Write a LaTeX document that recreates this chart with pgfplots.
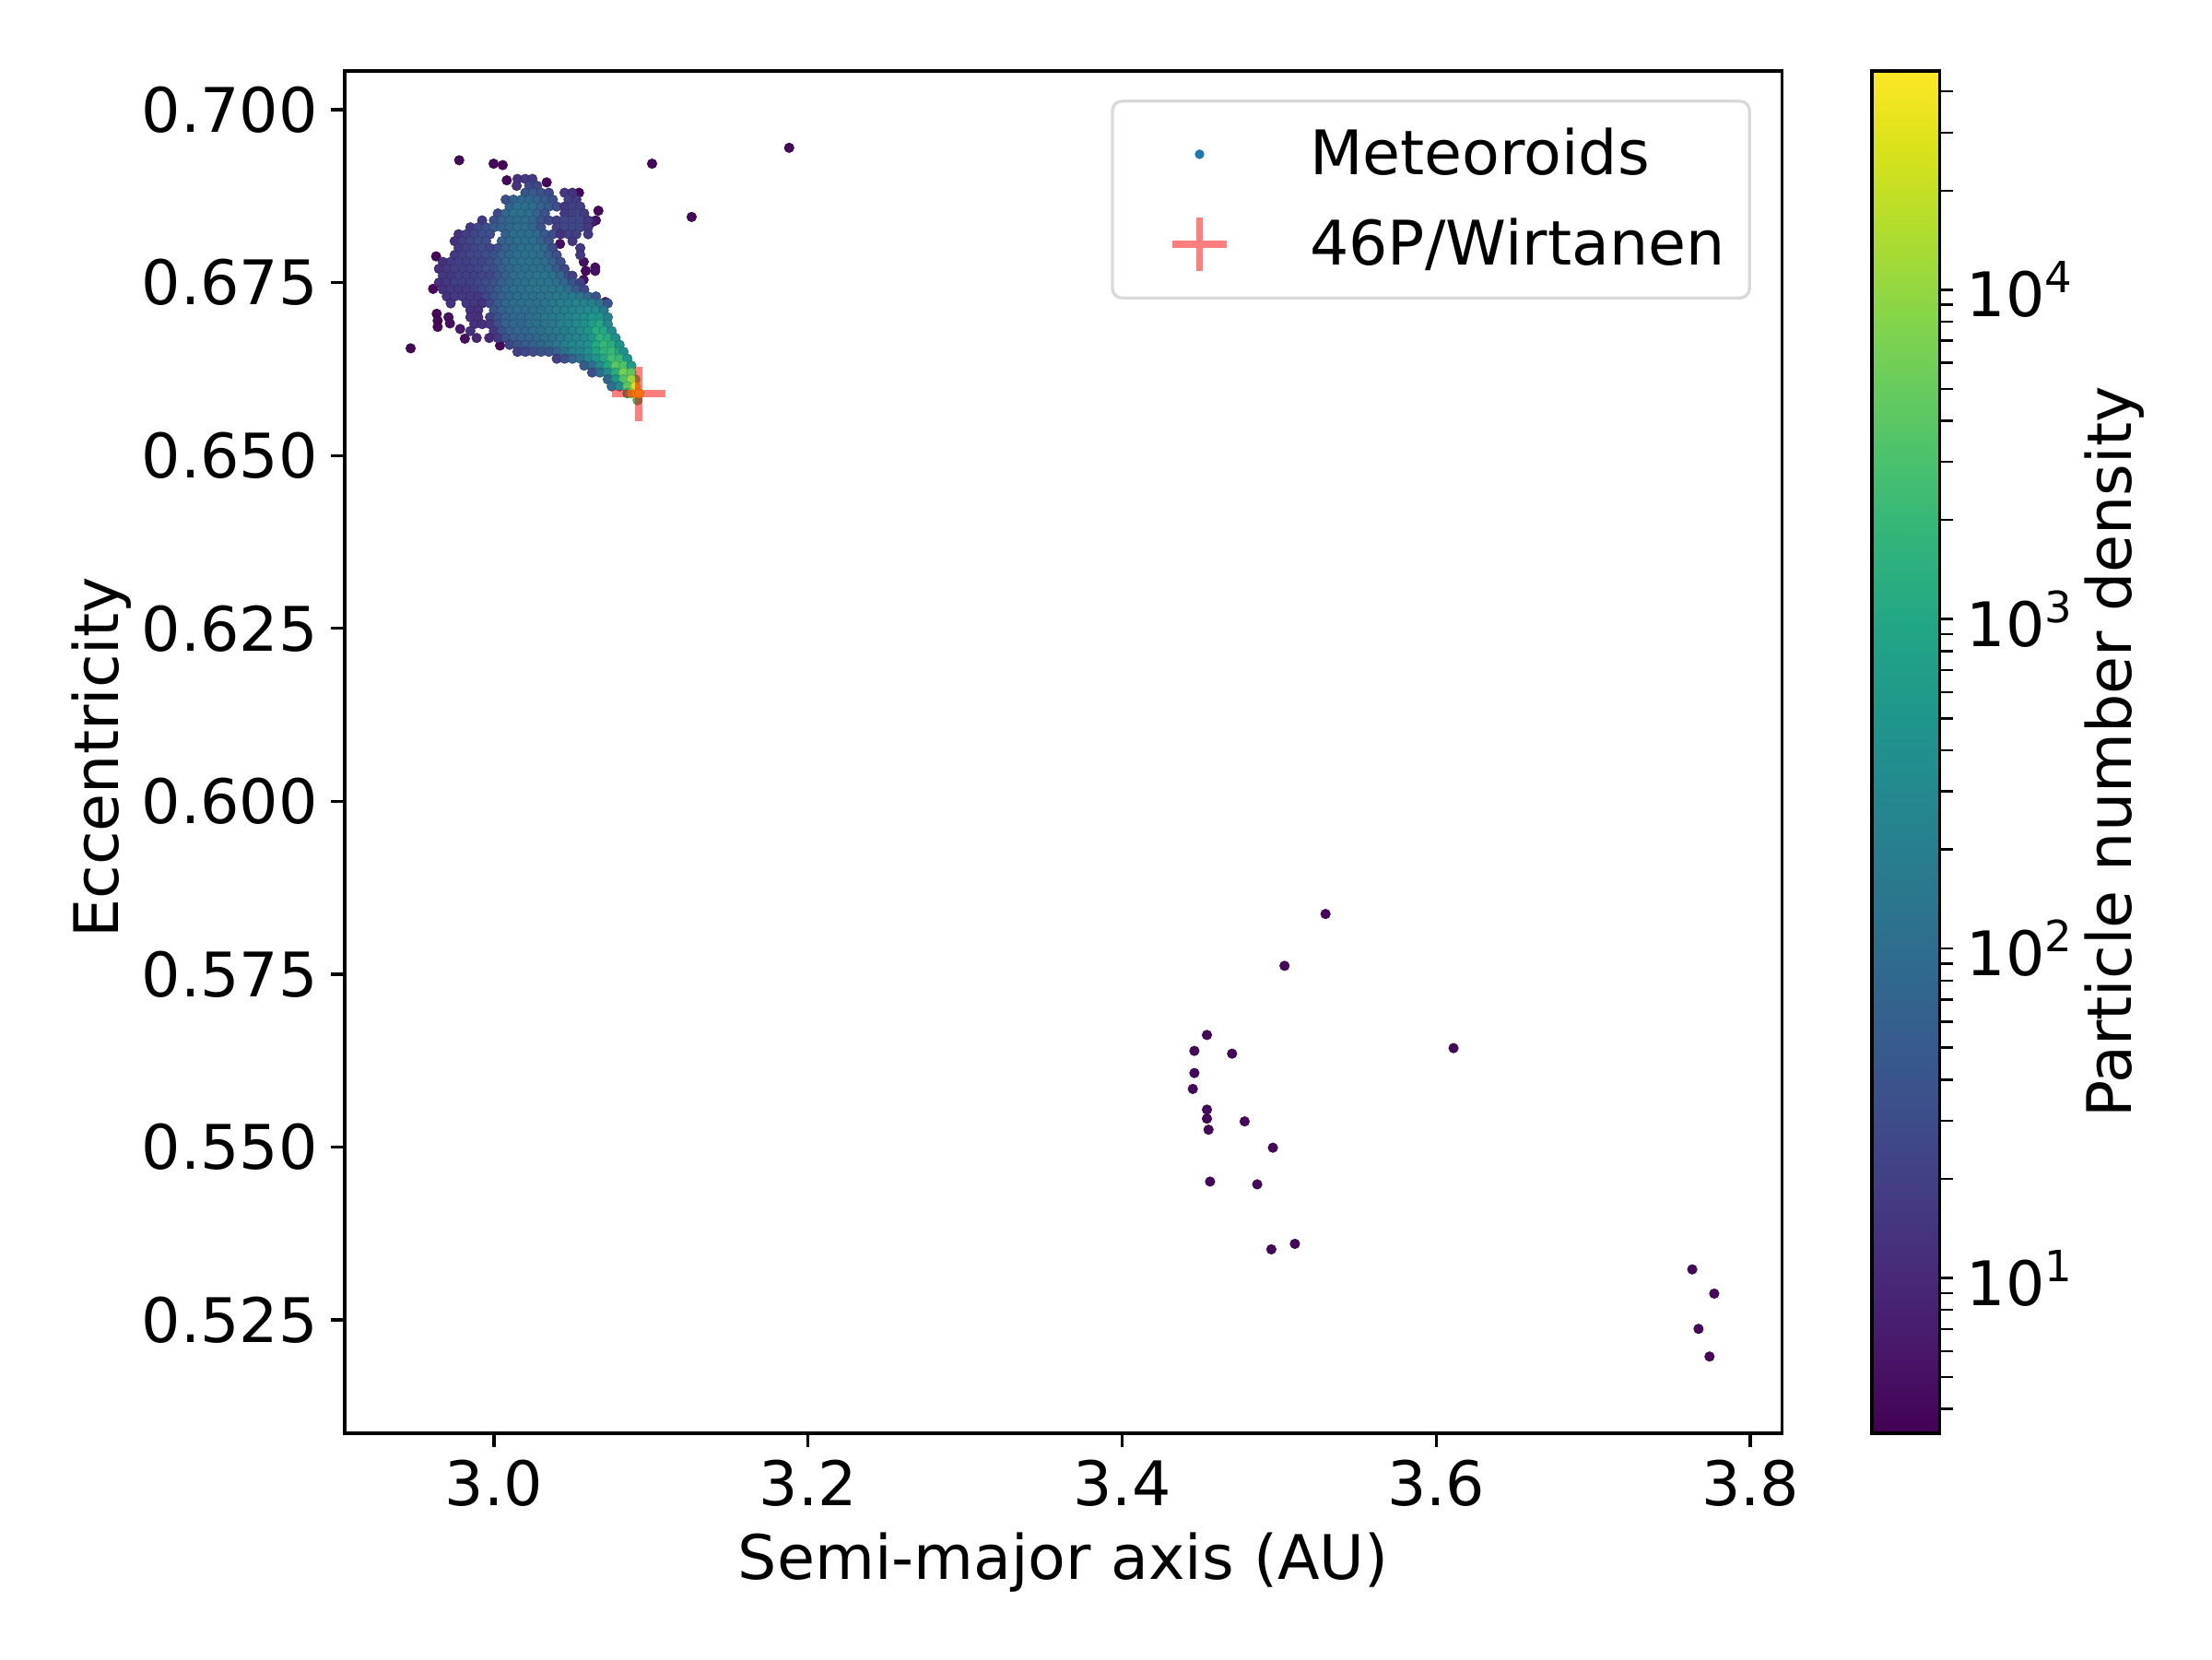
\documentclass[border=0pt]{standalone}
\usepackage{fontspec}
\setmainfont{DejaVu Sans}
\usepackage{pgfplots}
\pgfplotsset{compat=1.18}
\definecolor{cone}{HTML}{1F77B4}
\begin{document}
\begin{tikzpicture}[x=1bp,y=1bp]
\useasboundingbox (0,0) rectangle (576,432);
\begin{axis}[
  name=main,
  at={(89.76bp,58.8bp)},anchor=south west,
  scale only axis,width=374.2bp,height=354.7bp,
  xmin=2.905,xmax=3.82,ymin=0.5086,ymax=0.7056,
  axis line style={line width=0.8bp},
  every tick/.style={black,line width=0.8bp},
  tick align=outside,tick pos=left,
  major tick length=3.5bp,
  xtick={3,3.2,3.4,3.6,3.8},xticklabels={3.0,3.2,3.4,3.6,3.8},
  ytick={0.525,0.55,0.575,0.6,0.625,0.65,0.675,0.7},
  yticklabels={0.525,0.550,0.575,0.600,0.625,0.650,0.675,0.700},
  tick label style={font=\fontsize{16bp}{19bp}\selectfont},
  label style={font=\fontsize{16bp}{19bp}\selectfont},
  xlabel={Semi-major axis (AU)},ylabel={Eccentricity},
  ylabel shift=-4bp,
  ylabel style={at={(ticklabel cs:0.496)}},
  colormap/viridis,
  point meta min=0.5285,point meta max=4.664,
  colorbar,
  colorbar shift/.style={xshift=23.5bp},
  colorbar/width=17.6bp,
  colorbar style={
    at={(parent axis.south east)},anchor=south west,
    width=17.6bp,height=354.7bp,
    axis line style={line width=0.8bp},
    ylabel={Particle number density},
    ylabel style={font=\fontsize{16bp}{19bp}\selectfont},
    ylabel shift=-4bp,
    ytick={1,2,3,4},
    yticklabels={10\textsuperscript{1},10\textsuperscript{2},10\textsuperscript{3},10\textsuperscript{4}},
    yticklabel style={font=\fontsize{16bp}{19bp}\selectfont},
    minor ytick={0.6021,0.699,0.7782,0.8451,0.9031,0.9542,1.301,1.4771,1.6021,1.699,1.7782,1.8451,1.9031,1.9542,2.301,2.4771,2.6021,2.699,2.7782,2.8451,2.9031,2.9542,3.301,3.4771,3.6021,3.699,3.7782,3.8451,3.9031,3.9542,4.301,4.4771,4.6021},
    major tick length=3.5bp,minor tick length=3.5bp,
    every tick/.style={black,line width=0.6bp},
    minor tick style={black,line width=0.6bp},
    tick align=outside,tick pos=right,ytick pos=right,yticklabel pos=right,
  },
  legend style={
    at={(axis description cs:0.9786,0.979)},anchor=north east,
    draw=black!15,line width=0.8bp,rounded corners=2.5bp,
    font=\fontsize{16bp}{19bp}\selectfont,
    inner xsep=5.4bp,inner ysep=6bp,row sep=7.7bp,
    nodes={inner xsep=1bp,inner ysep=1bp},
  },
  legend cell align=left,
]
\addplot[scatter,only marks,mark=*,mark size=1.25bp,forget plot,
  point meta=explicit,mark options={line width=0.15bp}]
coordinates {
(3.188,.6945)[.6](3.1007,.6922)[.6](3.1259,.6845)[.6](2.947,.6655)[.6](2.9779,.6927)[.6]
(2.9998,.6922)[.6](3.0056,.6920)[.6](3.0082,.6898)[.6](3.0336,.6895)[.6](3.0542,.6880)[.6]
(3.5295,.5837)[.6](3.5034,.5762)[.6](3.454,.5662)[.6](3.446,.5639)[.6](3.470,.5635)[.6]
(3.446,.5607)[.6](3.445,.5584)[.6](3.454,.5554)[.6](3.454,.5541)[.6](3.455,.5525)[.6]
(3.478,.5537)[.6](3.496,.5499)[.6](3.456,.5450)[.6](3.486,.5446)[.6](3.495,.5352)[.6]
(3.510,.5360)[.6](3.611,.5643)[.6](3.763,.5323)[.6](3.777,.5288)[.6](3.767,.5237)[.6](3.774,.5197)[.6]
(3.0665,.6854)[.6](3.0649,.6840)[.7](3.0630,.6838)[.8](2.9632,.6788)[.6](2.9613,.6741)[.6]
(2.9636,.6705)[.6](2.9642,.6695)[.6](2.9642,.6686)[.6](2.9711,.6700)[.7](2.9720,.6691)[.7]
(2.9785,.6683)[.8](2.9815,.6669)[.7](3.0039,.6659)[.6](3.0585,.6767)[.6](3.0571,.6754)[.7]
(3.0572,.6780)[.7](3.0645,.6772)[.7](3.0645,.6767)[.7](3.0421,.6806)[.7](3.0710,.6722)[.8]
(3.015,.690)[1.1](3.02,.690)[1.2](3.0245,.690)[1.2]
(3.0145,.689)[1.1](3.0225,.689)[1.4](3.0275,.689)[1.4]
(3.02,.688)[1.6](3.025,.688)[1.7](3.03,.688)[1.6](3.035,.688)[1.4](3.045,.688)[1.2](3.05,.688)[1.1]
(3.0075,.687)[1.5](3.0125,.687)[1.8](3.0175,.687)[1.9](3.0225,.687)[1.9](3.0275,.687)[1.8](3.0325,.687)[1.7](3.0375,.687)[1.5](3.0475,.687)[1.3](3.0525,.687)[1.2]
(3.01,.686)[1.8](3.015,.686)[2.05](3.02,.686)[2.05](3.025,.686)[2.0](3.03,.686)[1.8](3.035,.686)[1.7](3.04,.686)[1.5](3.045,.686)[1.2](3.05,.686)[1.3](3.055,.686)[1.3]
(3.0025,.685)[1.4](3.0075,.685)[1.9](3.0125,.685)[2.05](3.0175,.685)[2.05](3.0225,.685)[2.0](3.0275,.685)[1.8](3.0325,.685)[1.6](3.045,.685)[1.2](3.05,.685)[1.3](3.055,.685)[1.4](3.0575,.685)[1.2]
(2.9925,.684)[1.2](3.0,.684)[1.5](3.005,.684)[1.8](3.01,.684)[1.9](3.015,.684)[2.0](3.02,.684)[2.0](3.025,.684)[1.9](3.03,.684)[1.6](3.035,.684)[1.4](3.04,.684)[1.3](3.045,.684)[1.4](3.05,.684)[1.4](3.055,.684)[1.4](3.06,.684)[1.2]
(2.985,.683)[1.2](2.99,.683)[1.4](2.995,.683)[1.5](3.0,.683)[1.7](3.005,.683)[1.8](3.01,.683)[1.9](3.015,.683)[2.0](3.02,.683)[2.0](3.025,.683)[1.9](3.03,.683)[1.6](3.04,.683)[1.3](3.045,.683)[1.4](3.05,.683)[1.4](3.055,.683)[1.4](3.06,.683)[1.2]
(2.9775,.682)[1.1](2.9825,.682)[1.3](2.9875,.682)[1.4](2.9925,.682)[1.5](2.9975,.682)[1.5](3.0075,.682)[1.8](3.0125,.682)[2.0](3.0175,.682)[2.0](3.0225,.682)[2.0](3.0275,.682)[1.9](3.0325,.682)[1.7](3.0375,.682)[1.5](3.0425,.682)[1.1](3.0475,.682)[1.3](3.0525,.682)[1.3](3.06,.682)[1.2]
(2.975,.681)[1.1](2.98,.681)[1.3](2.985,.681)[1.4](2.99,.681)[1.5](2.995,.681)[1.5](3.005,.681)[1.8](3.01,.681)[1.9](3.015,.681)[2.0](3.02,.681)[2.0](3.025,.681)[2.0](3.03,.681)[1.8](3.035,.681)[1.6](3.05,.681)[1.2]
(2.9775,.680)[1.2](2.9825,.680)[1.3](2.9875,.680)[1.4](2.9925,.680)[1.5](2.9975,.680)[1.4](3.0025,.680)[1.5](3.0075,.680)[1.8](3.0125,.680)[1.9](3.0175,.680)[2.0](3.0225,.680)[2.0](3.0275,.680)[2.0](3.0325,.680)[1.9](3.0375,.680)[1.5](3.055,.680)[1.2]
(2.975,.679)[1.2](2.98,.679)[1.3](2.985,.679)[1.4](2.99,.679)[1.4](2.995,.679)[1.5](3.0,.679)[1.6](3.005,.679)[1.8](3.01,.679)[1.9](3.015,.679)[2.0](3.02,.679)[2.05](3.025,.679)[2.05](3.03,.679)[2.0](3.035,.679)[1.8](3.04,.679)[1.5](3.055,.679)[1.2]
(2.9675,.678)[1.1](2.9725,.678)[1.2](2.9775,.678)[1.3](2.9825,.678)[1.3](2.9875,.678)[1.4](2.9925,.678)[1.4](2.9975,.678)[1.5](3.0025,.678)[1.7](3.0075,.678)[1.9](3.0125,.678)[2.0](3.0175,.678)[2.05](3.0225,.678)[2.05](3.0275,.678)[2.05](3.0325,.678)[2.0](3.0375,.678)[1.8](3.0425,.678)[1.5]
(2.965,.677)[1.1](2.97,.677)[1.2](2.975,.677)[1.3](2.98,.677)[1.3](2.985,.677)[1.3](2.99,.677)[1.4](2.995,.677)[1.5](3.0,.677)[1.5](3.005,.677)[1.8](3.01,.677)[1.9](3.015,.677)[2.0](3.02,.677)[2.05](3.025,.677)[2.05](3.03,.677)[2.05](3.035,.677)[2.0](3.04,.677)[1.7](3.045,.677)[1.4]
(2.9675,.676)[1.2](2.9725,.676)[1.2](2.9775,.676)[1.3](2.9825,.676)[1.3](2.9875,.676)[1.3](2.9925,.676)[1.4](2.9975,.676)[1.4](3.0025,.676)[1.6](3.0075,.676)[1.8](3.0125,.676)[2.0](3.0175,.676)[2.05](3.0225,.676)[2.05](3.0275,.676)[2.1](3.0325,.676)[2.1](3.0375,.676)[2.05](3.0425,.676)[1.9](3.0475,.676)[1.5](3.05,.676)[1.3]
(2.965,.675)[1.1](2.97,.675)[1.2](2.975,.675)[1.3](2.98,.675)[1.3](2.985,.675)[1.3](2.99,.675)[1.4](2.995,.675)[1.5](3.0,.675)[1.6](3.005,.675)[1.8](3.01,.675)[1.9](3.015,.675)[2.0](3.02,.675)[2.05](3.025,.675)[2.1](3.03,.675)[2.1](3.035,.675)[2.1](3.04,.675)[2.05](3.045,.675)[1.9](3.05,.675)[1.6](3.055,.675)[1.3]
(2.9675,.674)[1.1](2.9725,.674)[1.2](2.9775,.674)[1.2](2.9825,.674)[1.2](2.9875,.674)[1.3](2.9925,.674)[1.4](2.9975,.674)[1.5](3.0025,.674)[1.7](3.0075,.674)[1.9](3.0125,.674)[2.0](3.0175,.674)[2.05](3.0225,.674)[2.1](3.0275,.674)[2.1](3.0325,.674)[2.15](3.0375,.674)[2.15](3.0425,.674)[2.15](3.0475,.674)[2.0](3.0525,.674)[1.7](3.0575,.674)[1.4]
(2.97,.673)[1.1](2.975,.673)[1.2](2.98,.673)[1.2](2.985,.673)[1.2](2.99,.673)[1.2](2.995,.673)[1.4](3.0,.673)[1.6](3.005,.673)[1.8](3.01,.673)[1.9](3.015,.673)[2.0](3.02,.673)[2.05](3.025,.673)[2.05](3.03,.673)[2.1](3.035,.673)[2.1](3.04,.673)[2.2](3.045,.673)[2.2](3.05,.673)[2.2](3.055,.673)[2.1](3.06,.673)[1.9](3.065,.673)[1.6]
(2.9725,.672)[1.1](2.9825,.672)[1.2](2.9875,.672)[1.2](2.9925,.672)[1.1](2.9975,.672)[1.4](3.0025,.672)[1.7](3.0075,.672)[1.9](3.0125,.672)[2.0](3.0175,.672)[2.0](3.0225,.672)[2.05](3.0275,.672)[2.05](3.0325,.672)[2.1](3.0375,.672)[2.2](3.0425,.672)[2.25](3.0475,.672)[2.3](3.0525,.672)[2.35](3.0575,.672)[2.35](3.0625,.672)[2.3](3.0675,.672)[2.1](3.0725,.672)[1.6]
(2.985,.671)[1.1](2.99,.671)[1.1](3.0,.671)[1.6](3.005,.671)[1.8](3.01,.671)[1.9](3.015,.671)[2.0](3.02,.671)[2.0](3.025,.671)[2.05](3.03,.671)[2.05](3.035,.671)[2.15](3.04,.671)[2.25](3.045,.671)[2.3](3.05,.671)[2.35](3.055,.671)[2.45](3.06,.671)[2.5](3.065,.671)[2.5](3.07,.671)[2.2]
(2.985,.670)[1.1](2.99,.670)[1.1](2.9975,.670)[1.3](3.0025,.670)[1.6](3.0075,.670)[1.8](3.0125,.670)[1.9](3.0175,.670)[1.9](3.0225,.670)[2.0](3.0275,.670)[2.05](3.0325,.670)[2.15](3.0375,.670)[2.2](3.0425,.670)[2.3](3.0475,.670)[2.35](3.0525,.670)[2.45](3.0575,.670)[2.55](3.0625,.670)[2.7](3.0675,.670)[2.7](3.0725,.670)[2.3]
(2.9875,.669)[1.1](2.9925,.669)[1.1](2.9975,.669)[1.2](3.0025,.669)[1.5](3.0075,.669)[1.8](3.0125,.669)[1.9](3.0175,.669)[1.9](3.0225,.669)[2.0](3.0275,.669)[2.05](3.0325,.669)[2.1](3.0375,.669)[2.15](3.0425,.669)[2.3](3.0475,.669)[2.35](3.0525,.669)[2.45](3.0575,.669)[2.55](3.0625,.669)[2.8](3.0675,.669)[3.0](3.0725,.669)[2.4]
(2.985,.668)[1.1](3.0,.668)[1.2](3.005,.668)[1.6](3.01,.668)[1.8](3.015,.668)[1.9](3.02,.668)[1.9](3.025,.668)[2.0](3.03,.668)[2.05](3.035,.668)[2.15](3.04,.668)[2.2](3.045,.668)[2.3](3.05,.668)[2.35](3.055,.668)[2.5](3.06,.668)[2.7](3.065,.668)[3.1](3.07,.668)[3.0](3.075,.668)[2.5]
(2.989,.667)[1.0](2.997,.667)[1.0](3.0025,.667)[1.2](3.0075,.667)[1.5](3.0125,.667)[1.7](3.0175,.667)[1.8](3.0225,.667)[1.8](3.0275,.667)[1.9](3.0325,.667)[2.0](3.0375,.667)[2.05](3.0425,.667)[2.15](3.0475,.667)[2.3](3.0525,.667)[2.4](3.0575,.667)[2.5](3.0625,.667)[2.7](3.0675,.667)[3.2](3.0725,.667)[3.1](3.0775,.667)[2.6]
(3.01,.666)[1.4](3.015,.666)[1.6](3.02,.666)[1.7](3.025,.666)[1.8](3.03,.666)[1.9](3.035,.666)[2.0](3.04,.666)[2.15](3.045,.666)[2.3](3.05,.666)[2.4](3.055,.666)[2.5](3.06,.666)[2.6](3.065,.666)[3.0](3.07,.666)[3.3](3.075,.666)[3.1](3.08,.666)[2.6]
(3.015,.665)[1.3](3.02,.665)[1.4](3.025,.665)[1.5](3.03,.665)[1.6](3.035,.665)[1.6](3.04,.665)[1.8](3.045,.665)[2.05](3.05,.665)[2.3](3.055,.665)[2.4](3.06,.665)[2.6](3.065,.665)[2.9](3.07,.665)[3.2](3.075,.665)[3.3](3.08,.665)[3.0](3.0825,.665)[2.6]
(3.04,.664)[1.3](3.045,.664)[1.5](3.05,.664)[1.8](3.055,.664)[2.05](3.06,.664)[2.4](3.065,.664)[2.7](3.07,.664)[3.0](3.075,.664)[3.4](3.08,.664)[3.3](3.085,.664)[2.7]
(3.0575,.663)[1.7](3.0625,.663)[2.05](3.0675,.663)[2.5](3.0725,.663)[3.0](3.0775,.663)[3.6](3.0825,.663)[3.5](3.0875,.663)[2.8]
(3.0625,.662)[1.5](3.0675,.662)[2.0](3.0725,.662)[2.5](3.0775,.662)[3.1](3.0825,.662)[3.8](3.0875,.662)[3.6]
(3.0725,.661)[1.9](3.0775,.661)[2.7](3.0825,.661)[3.5](3.09,.661)[3.5](3.0875,.661)[4.0]
(3.075,.660)[2.05](3.08,.660)[2.5](3.085,.660)[3.6](3.09,.660)[4.4]
(3.0915,.658)[3.4](3.085,.659)[3.0](3.0875,.659)[4.0](3.09,.659)[4.5](3.0925,.659)[4.66]
};
\addlegendimage{legend image code/.code={
  \path[draw=none,fill=none] (0bp,-7bp) rectangle (45bp,7bp);
  \fill[cone,draw=none] (17.3bp,0bp) circle[radius=1.25bp];}}
\addlegendentry{Meteoroids}
\addlegendimage{legend image code/.code={
  \path[draw=none,fill=none] (0bp,-7bp) rectangle (45bp,7bp);
  \draw[red,opacity=0.5,line width=1.9bp,rounded corners=0pt] (10.3bp,0bp)--(24.3bp,0bp) (17.3bp,-7bp)--(17.3bp,7bp);}}
\addlegendentry{46P/Wirtanen}
\addplot[only marks,mark=+,mark size=7bp,red,opacity=0.5,
  mark options={line width=1.9bp},forget plot] coordinates {(3.0923,.6589)};
\end{axis}
\end{tikzpicture}
\end{document}
